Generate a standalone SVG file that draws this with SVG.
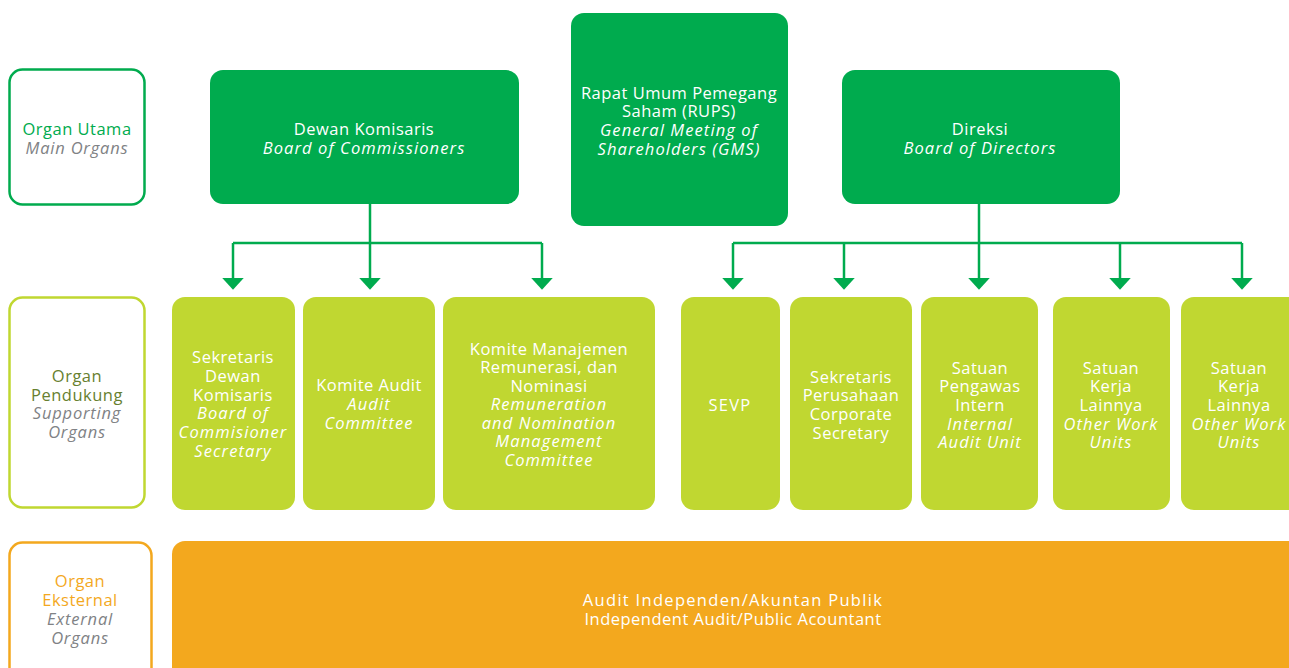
<svg xmlns="http://www.w3.org/2000/svg" width="1289" height="668" viewBox="0 0 1289 668">
<style>
text{font-family:"Open Sans","Liberation Sans",sans-serif;font-size:16.5px;letter-spacing:0.5px;text-anchor:middle}
.w{fill:#ffffff}
.i{font-style:italic;letter-spacing:1.1px}
.g{fill:#808285;font-style:italic;letter-spacing:0.8px}
.main{fill:#00AB4E}
.sup{fill:#C0D731}
.ext{fill:#F3A81E}
.conn{stroke:#00AB4E;stroke-width:2.5;fill:none}
</style>
<defs>
<marker id="ah" markerUnits="userSpaceOnUse" markerWidth="12" markerHeight="22" refX="2" refY="10" orient="auto" viewBox="0 0 11 20">
<path d="M0,0 L11,10 L0,20 Z" fill="#00AB4E"/>
</marker>
</defs>
<rect width="1289" height="668" fill="#ffffff"/>

<g id="label-main">
<rect x="9.5" y="69.5" width="135" height="135" rx="13" fill="#fff" stroke="#00AB4E" stroke-width="2.5"/>
<text x="77" y="135" fill="#00AB4E">Organ Utama</text>
<text x="77" y="154" class="g">Main Organs</text>
</g>
<g id="label-support">
<rect x="9.5" y="297.5" width="135" height="210" rx="13" fill="#fff" stroke="#C0D731" stroke-width="2.5"/>
<text x="77" y="382" fill="#67802F">Organ</text>
<text x="77" y="401" fill="#67802F">Pendukung</text>
<text x="77" y="419" class="g">Supporting</text>
<text x="77" y="438" class="g">Organs</text>
</g>
<g id="label-external">
<rect x="9.5" y="542.5" width="142" height="140" rx="13" fill="#fff" stroke="#F3A81E" stroke-width="2.5"/>
<text x="80" y="587" fill="#F3A81E">Organ</text>
<text x="80" y="606" fill="#F3A81E">Eksternal</text>
<text x="80" y="625" class="g">External</text>
<text x="80" y="644" class="g">Organs</text>
</g>

<g id="connectors">
<path class="conn" d="M370,204 V243 M233,243 H542"/>
<path class="conn" d="M233,243 V280" marker-end="url(#ah)"/>
<path class="conn" d="M370,243 V280" marker-end="url(#ah)"/>
<path class="conn" d="M542,243 V280" marker-end="url(#ah)"/>
<path class="conn" d="M979,204 V243 M733,243 H1242"/>
<path class="conn" d="M733,243 V280" marker-end="url(#ah)"/>
<path class="conn" d="M844,243 V280" marker-end="url(#ah)"/>
<path class="conn" d="M979,243 V280" marker-end="url(#ah)"/>
<path class="conn" d="M1120,243 V280" marker-end="url(#ah)"/>
<path class="conn" d="M1242,243 V280" marker-end="url(#ah)"/>
</g>

<g id="dewan-komisaris">
<rect x="210" y="70" width="309" height="134" rx="13" class="main"/>
<text x="364" y="135" class="w">Dewan Komisaris</text>
<text x="364" y="154" class="w i">Board of Commissioners</text>
</g>
<g id="rups">
<rect x="571" y="13" width="217" height="213" rx="13" class="main"/>
<text x="679" y="99" class="w">Rapat Umum Pemegang</text>
<text x="679" y="117" class="w">Saham (RUPS)</text>
<text x="679" y="136" class="w i">General Meeting of</text>
<text x="679" y="155" class="w i">Shareholders (GMS)</text>
</g>
<g id="direksi">
<rect x="842" y="70" width="278" height="134" rx="13" class="main"/>
<text x="980" y="135" class="w">Direksi</text>
<text x="980" y="154" class="w i">Board of Directors</text>
</g>

<g id="sekretaris-dewan">
<rect x="172" y="297" width="123" height="213" rx="13" class="sup"/>
<text x="233" y="363" class="w">Sekretaris</text>
<text x="233" y="382" class="w">Dewan</text>
<text x="233" y="401" class="w">Komisaris</text>
<text x="233" y="419" class="w i">Board of</text>
<text x="233" y="438" class="w i">Commisioner</text>
<text x="233" y="457" class="w i">Secretary</text>
</g>
<g id="komite-audit">
<rect x="303" y="297" width="132" height="213" rx="13" class="sup"/>
<text x="369" y="391" class="w">Komite Audit</text>
<text x="369" y="410" class="w i">Audit</text>
<text x="369" y="429" class="w i">Committee</text>
</g>
<g id="komite-remunerasi">
<rect x="443" y="297" width="212" height="213" rx="13" class="sup"/>
<text x="549" y="355" class="w">Komite Manajemen</text>
<text x="549" y="373" class="w">Remunerasi, dan</text>
<text x="549" y="392" class="w">Nominasi</text>
<text x="549" y="410" class="w i">Remuneration</text>
<text x="549" y="429" class="w i">and Nomination</text>
<text x="549" y="447" class="w i">Management</text>
<text x="549" y="466" class="w i">Committee</text>
</g>
<g id="sevp">
<rect x="681" y="297" width="99" height="213" rx="13" class="sup"/>
<text x="730" y="411" class="w" style="letter-spacing:1.2px">SEVP</text>
</g>
<g id="sekretaris-perusahaan">
<rect x="790" y="297" width="122" height="213" rx="13" class="sup"/>
<text x="851" y="383" class="w">Sekretaris</text>
<text x="851" y="401" class="w">Perusahaan</text>
<text x="851" y="420" class="w">Corporate</text>
<text x="851" y="439" class="w">Secretary</text>
</g>
<g id="satuan-pengawas">
<rect x="921" y="297" width="117" height="213" rx="13" class="sup"/>
<text x="980" y="374" class="w">Satuan</text>
<text x="980" y="392" class="w">Pengawas</text>
<text x="980" y="411" class="w">Intern</text>
<text x="980" y="430" class="w i">Internal</text>
<text x="980" y="448" class="w i">Audit Unit</text>
</g>
<g id="satuan-kerja-1">
<rect x="1053" y="297" width="117" height="213" rx="13" class="sup"/>
<text x="1111" y="374" class="w">Satuan</text>
<text x="1111" y="392" class="w">Kerja</text>
<text x="1111" y="411" class="w">Lainnya</text>
<text x="1111" y="430" class="w i">Other Work</text>
<text x="1111" y="448" class="w i">Units</text>
</g>
<g id="satuan-kerja-2">
<rect x="1181" y="297" width="120" height="213" rx="13" class="sup"/>
<text x="1239" y="374" class="w">Satuan</text>
<text x="1239" y="392" class="w">Kerja</text>
<text x="1239" y="411" class="w">Lainnya</text>
<text x="1239" y="430" class="w i">Other Work</text>
<text x="1239" y="448" class="w i">Units</text>
</g>

<g id="audit-independen">
<rect x="172" y="541" width="1140" height="150" rx="13" class="ext"/>
<text x="733" y="606" class="w" style="letter-spacing:1.3px">Audit Independen/Akuntan Publik</text>
<text x="733" y="625" class="w">Independent Audit/Public Acountant</text>
</g>
</svg>
